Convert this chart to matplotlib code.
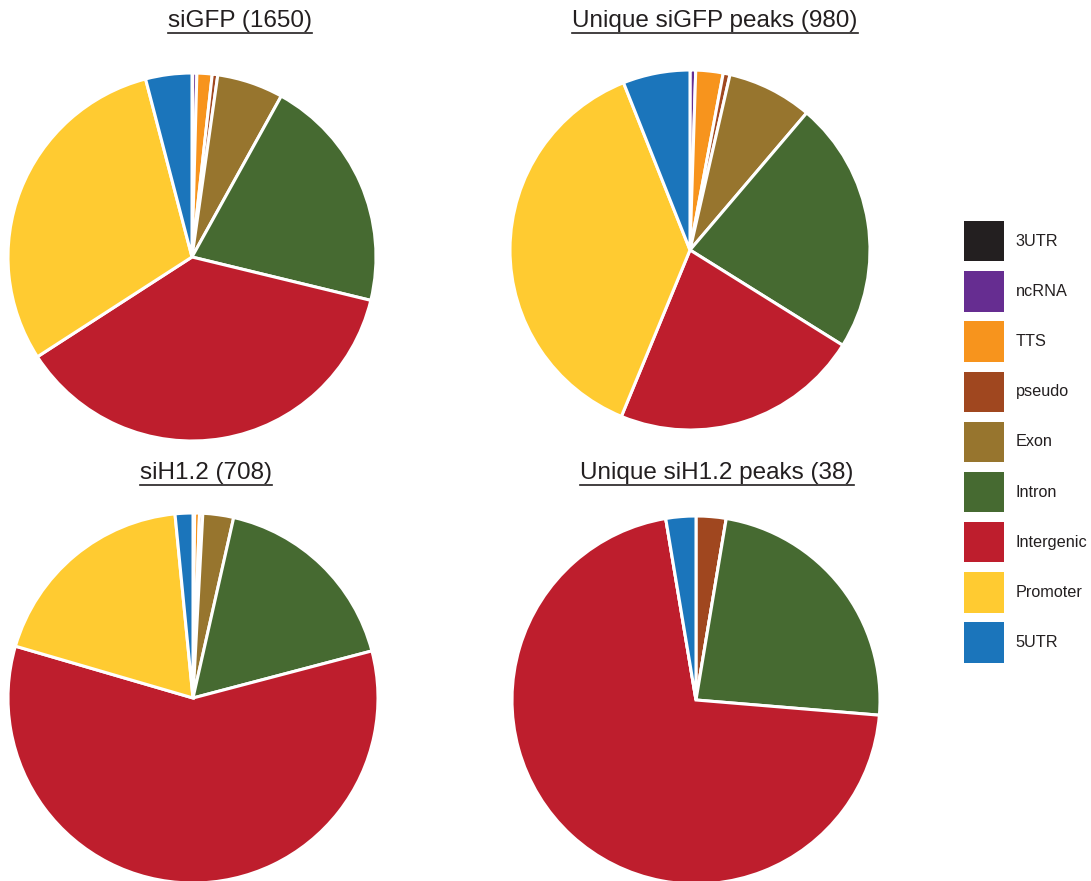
import numpy as np
import matplotlib
matplotlib.use('Agg')
import matplotlib.pyplot as plt
from matplotlib.patches import Patch
from matplotlib.lines import Line2D

plt.rcParams['font.family'] = ['Liberation Sans', 'DejaVu Sans']

# categories, clockwise from 12 o'clock
categories = ['3UTR', 'ncRNA', 'TTS', 'pseudo', 'Exon', 'Intron',
              'Intergenic', 'Promoter', '5UTR']
colors = ['#231F20', '#662D91', '#F7941D', '#A0471F', '#97752E',
          '#466A31', '#BE1E2D', '#FFCB31', '#1B75BB']

# peak counts per category
siGFP = [1, 6, 22, 8, 96, 342, 612, 496, 67]
uniq_siGFP = [0, 5, 24, 6, 75, 222, 219, 370, 59]
siH12 = [0, 1, 3, 2, 19, 123, 415, 134, 11]
uniq_siH12 = [0, 0, 0, 1, 0, 9, 27, 0, 1]

titles = ['siGFP (1650)', 'Unique siGFP peaks (980)',
          'siH1.2 (708)', 'Unique siH1.2 peaks (38)']
datasets = [siGFP, uniq_siGFP, siH12, uniq_siH12]

W, H = 1091, 881
fig = plt.figure(figsize=(W / 100, H / 100), dpi=100)

# pie centres / radii in pixels, title centre in pixels
pie_px = [(192, 257, 184), (690, 250, 180), (193, 698, 185), (696, 700, 184)]
title_px = [(240, 21), (715, 21), (206, 473), (717, 473)]

for vals, (cx, cy, r) in zip(datasets, pie_px):
    ax = fig.add_axes([(cx - r) / W, 1 - (cy + r) / H, 2 * r / W, 2 * r / H])
    ax.pie(vals, colors=colors, startangle=90, counterclock=False,
           radius=1, wedgeprops=dict(edgecolor='white', linewidth=2.2))
    ax.set_xlim(-1, 1)
    ax.set_ylim(-1, 1)
    ax.set_aspect('equal')
    ax.axis('off')

title_texts = []
for t, (tx, ty) in zip(titles, title_px):
    txt = fig.text(tx / W, 1 - ty / H, t, ha='center', va='center',
                   fontsize=17.5, color='#231F20')
    title_texts.append(txt)

# underline the titles
fig.canvas.draw()
renderer = fig.canvas.get_renderer()
for txt in title_texts:
    bb = txt.get_window_extent(renderer).transformed(fig.transFigure.inverted())
    y = bb.y0 - 0.5 / H
    fig.add_artist(Line2D([bb.x0, bb.x1], [y, y], transform=fig.transFigure,
                          color='#231F20', linewidth=1.2))

handles = [Patch(facecolor=c, edgecolor='none') for c in colors]
fig.legend(handles, categories, loc='upper left',
           bbox_to_anchor=(964 / W, 1 - 221 / H), frameon=False,
           fontsize=11.7, handlelength=2.45, handleheight=3.45,
           labelspacing=0.6, handletextpad=0.72, borderpad=0,
           borderaxespad=0, labelcolor='#231F20')

fig.savefig('out.png', dpi=100)
